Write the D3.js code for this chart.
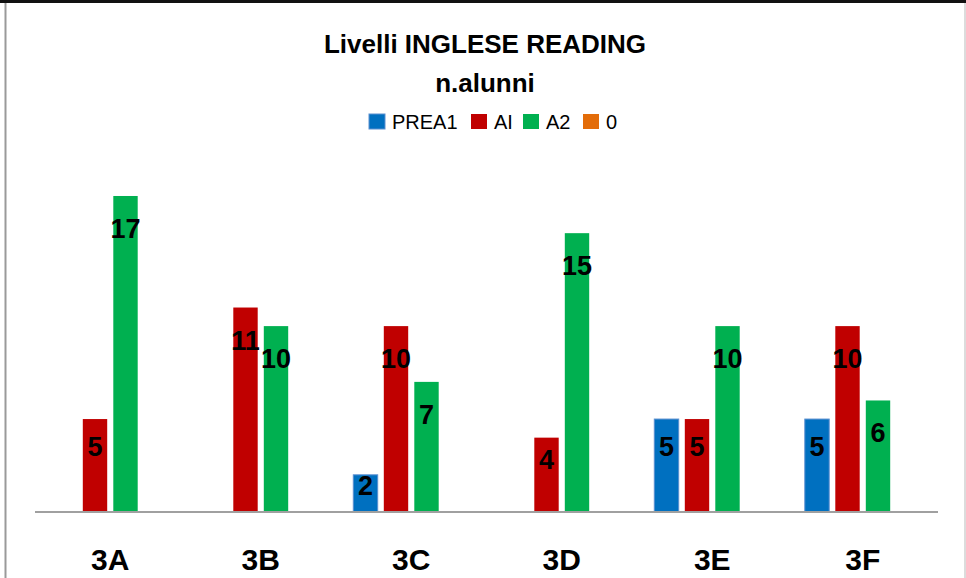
<!DOCTYPE html>
<html>
<head>
<meta charset="utf-8">
<script src="https://cdn.jsdelivr.net/npm/d3@7"></script>
<style>
  body { margin: 0; background: #fff; }
  svg { display: block; }
</style>
</head>
<body>
<div id="chart"></div>
<script>
// chart data
var classi = ["3A", "3B", "3C", "3D", "3E", "3F"];
var serie = ["PREA1", "AI", "A2", "0"];
var prea1 = [0, 0, 2, 0, 5, 5];
var ai = [5, 11, 10, 4, 5, 10];
var a2 = [17, 10, 7, 15, 10, 6];
var zero = [0, 0, 0, 0, 0, 0];
var colori = ["#0070C0", "#C00000", "#00B050", "#E36C09"];

var svgWidth = 966;
var svgHeight = 578;
var font = "'Liberation Sans', Arial, sans-serif";

var svg = d3.select("#chart")
  .append("svg")
  .attr("width", svgWidth)
  .attr("height", svgHeight);

// frame
svg.append("rect").attr("x", 0).attr("y", 0).attr("width", svgWidth).attr("height", svgHeight).attr("fill", "#fff");
svg.append("line").attr("x1", 0).attr("x2", svgWidth).attr("y1", 1.5).attr("y2", 1.5)
  .attr("stroke", "#111").attr("stroke-width", 3);
svg.append("line").attr("x1", 5.5).attr("x2", 5.5).attr("y1", 3).attr("y2", svgHeight)
  .attr("stroke", "#9a9a9a").attr("stroke-width", 2);
svg.append("line").attr("x1", 965).attr("x2", 965).attr("y1", 3).attr("y2", svgHeight)
  .attr("stroke", "#d0d0d0").attr("stroke-width", 1.5);

// build rows
var rows = classi.map(function(c, i) {
  return { classe: c, values: [prea1[i], ai[i], a2[i], zero[i]] };
});

// scales
var x0 = d3.scaleBand().domain(classi).range([35, 938]).padding(0);
var x1 = d3.scaleBand().domain(serie).range([-61, 61]).paddingInner(0.2).paddingOuter(0.1);
var y = d3.scaleLinear().domain([0, 18]).range([512, 177.4]);

var chartGroup = svg.append("g");

var groups = chartGroup.selectAll("g.classe")
  .data(rows)
  .enter()
  .append("g")
  .attr("class", "classe")
  .attr("transform", d => `translate(${x0(d.classe) + x0.bandwidth() / 2}, 0)`);

groups.selectAll("rect")
  .data(d => d.values.map((v, j) => ({ serie: serie[j], value: v, j: j })).filter(e => e.value > 0))
  .enter()
  .append("rect")
  .attr("x", d => x1(d.serie))
  .attr("y", d => y(d.value))
  .attr("width", x1.bandwidth())
  .attr("height", d => y(0) - y(d.value))
  .attr("fill", d => colori[d.j])
  .attr("stroke", d => d.j == 0 ? "#5B8FD0" : "none")
  .attr("stroke-width", 1);

// value labels
groups.selectAll("text.val")
  .data(d => d.values.map((v, j) => ({ serie: serie[j], value: v, j: j })).filter(e => e.value > 0))
  .enter()
  .append("text")
  .attr("class", "val")
  .attr("x", d => x1(d.serie) + x1.bandwidth() / 2)
  .attr("y", function(d) {
    var h = y(0) - y(d.value);
    return y(d.value) + Math.min(33, h * 0.3);
  })
  .attr("text-anchor", "middle")
  .attr("dominant-baseline", "central")
  .attr("font-family", font)
  .attr("font-size", "27px")
  .attr("font-weight", "bold")
  .attr("fill", "#000")
  .text(d => d.value);

// baseline
chartGroup.append("line")
  .attr("x1", 35).attr("x2", 938)
  .attr("y1", 512).attr("y2", 512)
  .attr("stroke", "#a0a0a0").attr("stroke-width", 2);

// category labels
chartGroup.selectAll("text.cat")
  .data(classi)
  .enter()
  .append("text")
  .attr("class", "cat")
  .attr("x", d => x0(d) + x0.bandwidth() / 2)
  .attr("y", 570)
  .attr("text-anchor", "middle")
  .attr("font-family", font)
  .attr("font-size", "30px")
  .attr("font-weight", "bold")
  .attr("fill", "#000")
  .text(d => d);

// title
svg.append("text")
  .attr("x", 485).attr("y", 53)
  .attr("text-anchor", "middle")
  .attr("font-family", font)
  .attr("font-size", "26px")
  .attr("font-weight", "bold")
  .text("Livelli INGLESE READING");
svg.append("text")
  .attr("x", 485).attr("y", 92)
  .attr("text-anchor", "middle")
  .attr("font-family", font)
  .attr("font-size", "26px")
  .attr("font-weight", "bold")
  .text("n.alunni");

// legend
var legendX = [369, 471, 523, 583];
var legend = svg.append("g");
serie.forEach(function(s, i) {
  legend.append("rect")
    .attr("x", legendX[i]).attr("y", 114)
    .attr("width", 16).attr("height", 15)
    .attr("fill", colori[i])
    .attr("stroke", i == 0 ? "#5B8FD0" : "none");
  legend.append("text")
    .attr("x", legendX[i] + 23).attr("y", 129)
    .attr("font-family", font)
    .attr("font-size", "20px")
    .attr("fill", "#000")
    .text(s);
});
</script>
</body>
</html>
